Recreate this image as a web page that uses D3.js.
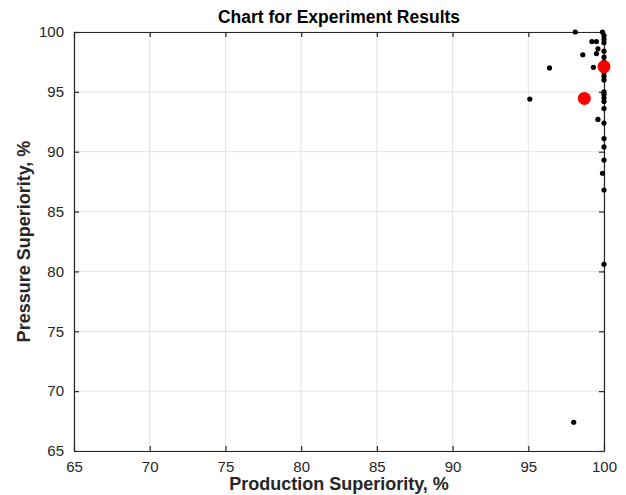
<!DOCTYPE html>
<html>
<head>
<meta charset="utf-8">
<script src="https://cdn.jsdelivr.net/npm/d3@7"></script>
<style>
  body { margin: 0; background: #fff; }
  svg { font-family: "Liberation Sans", Arial, sans-serif; }
</style>
</head>
<body>
<div id="chart"></div>
<script>
'use strict';

// experiment results (production %, pressure %)
var productionVals = [98.1, 99.9, 100, 100, 99.2, 99.5, 99.6, 99.5, 100, 98.6, 100, 96.4, 99.3,
  100, 100, 100, 100, 100, 100, 95.1, 100, 99.6, 100, 100, 100, 100, 99.9, 100, 100, 98.0,
  100, 100, 100];
var pressureVals = [100, 100, 99.7, 99.4, 99.2, 99.2, 98.6, 98.2, 98.4, 98.1, 97.9, 97.0, 97.05,
  96.3, 96.0, 95.0, 94.8, 94.2, 94.5, 94.4, 93.6, 92.7, 92.4, 91.1, 90.4, 89.3, 88.2, 86.8, 80.6, 67.4,
  99.1, 97.5, 96.6];

// highlighted results
var bestProduction = [100, 98.7];
var bestPressure = [97.1, 94.45];

var xTicks = [65, 70, 75, 80, 85, 90, 95, 100];
var yTicks = [65, 70, 75, 80, 85, 90, 95, 100];

var width = 626, height = 495;
var margin = {top: 32, right: 22, bottom: 44, left: 74};
var plotW = width - margin.left - margin.right,
  plotH = height - margin.top - margin.bottom;
var axisColor = '#262626';

var svg = d3.select('#chart').append('svg')
  .attr('width', width)
  .attr('height', height);

var x = d3.scaleLinear().domain([65, 100]).range([0, plotW]);
var y = d3.scaleLinear().domain([65, 100]).range([plotH, 0]);

var g = svg.append('g')
  .attr('transform', 'translate(' + margin.left + ',' + margin.top + ')');

// grid
g.append('g').selectAll('line').data(xTicks).enter().append('line')
  .attr('x1', function (d) { return x(d); }).attr('x2', function (d) { return x(d); })
  .attr('y1', 0).attr('y2', plotH)
  .attr('stroke', '#e3e3e3').attr('stroke-width', 1);
g.append('g').selectAll('line').data(yTicks).enter().append('line')
  .attr('y1', function (d) { return y(d); }).attr('y2', function (d) { return y(d); })
  .attr('x1', 0).attr('x2', plotW)
  .attr('stroke', '#e3e3e3').attr('stroke-width', 1);

// axes, ticks pointing inward, boxed
var xAxis = d3.axisBottom(x).tickValues(xTicks).tickSizeInner(-5).tickSizeOuter(0).tickPadding(10);
var yAxis = d3.axisLeft(y).tickValues(yTicks).tickSizeInner(-5).tickSizeOuter(0).tickPadding(10);
var xTop = d3.axisTop(x).tickValues(xTicks).tickSizeInner(-5).tickSizeOuter(0).tickFormat('');
var yRight = d3.axisRight(y).tickValues(yTicks).tickSizeInner(-5).tickSizeOuter(0).tickFormat('');

function styleAxis(sel) {
  sel.selectAll('path').attr('stroke', axisColor).attr('stroke-width', 1.2);
  sel.selectAll('line').attr('stroke', axisColor).attr('stroke-width', 1.2);
  sel.selectAll('text').attr('fill', axisColor).attr('font-size', '15px')
    .attr('font-family', '"Liberation Sans", Arial, sans-serif');
}

g.append('g').attr('transform', 'translate(0,' + plotH + ')').call(xAxis).call(styleAxis);
g.append('g').call(yAxis).call(styleAxis);
g.append('g').call(xTop).call(styleAxis);
g.append('g').attr('transform', 'translate(' + plotW + ',0)').call(yRight).call(styleAxis);

// points
var pts = productionVals.map(function (v, i) { return {x: v, y: pressureVals[i]}; });
g.append('g').selectAll('circle').data(pts).enter().append('circle')
  .attr('cx', function (d) { return x(d.x); })
  .attr('cy', function (d) { return y(d.y); })
  .attr('r', 2.6)
  .attr('fill', '#000');

var best = bestProduction.map(function (v, i) { return {x: v, y: bestPressure[i]}; });
g.append('g').selectAll('circle').data(best).enter().append('circle')
  .attr('cx', function (d) { return x(d.x); })
  .attr('cy', function (d) { return y(d.y); })
  .attr('r', 6.5)
  .attr('fill', '#ff0000');

// labels
svg.append('text')
  .attr('x', margin.left + plotW / 2).attr('y', 23)
  .attr('text-anchor', 'middle')
  .attr('font-size', '17.5px').attr('font-weight', 'bold').attr('fill', '#000')
  .text('Chart for Experiment Results');

svg.append('text')
  .attr('x', margin.left + plotW / 2).attr('y', 490)
  .attr('text-anchor', 'middle')
  .attr('font-size', '18px').attr('font-weight', 'bold').attr('fill', axisColor)
  .text('Production Superiority, %');

svg.append('text')
  .attr('transform', 'translate(30,' + (margin.top + plotH / 2) + ') rotate(-90)')
  .attr('text-anchor', 'middle')
  .attr('font-size', '18px').attr('font-weight', 'bold').attr('fill', axisColor)
  .text('Pressure Superiority, %');
</script>
</body>
</html>
